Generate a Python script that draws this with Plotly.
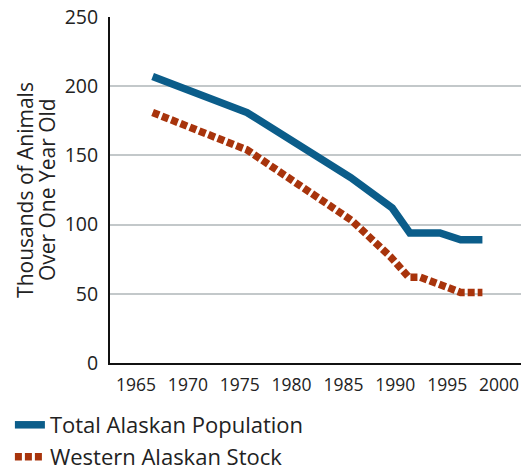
import plotly.graph_objects as go

# Population estimates (thousands of animals over one year old)
total_years = [1966.6, 1975.7, 1985.7, 1989.7, 1991.4, 1994.3, 1996.3, 1998.4]
total_values = [207, 181, 134, 112, 94, 94, 89, 89]

western_years = [1966.6, 1975.7, 1985.8, 1989.5, 1991.3, 1992.4, 1996.3, 1998.4]
western_values = [181, 154, 103, 77, 62, 62, 51, 51]

x_ticks = [1965, 1970, 1975, 1980, 1985, 1990, 1995, 2000]
y_ticks = [0, 50, 100, 150, 200, 250]

y_title_lines = ["Thousands of Animals", "Over One Year Old"]

BLUE = "#0b5d8a"
RUST = "#a8340c"
TEXT = "#222222"
FONT = "Open Sans"

fig = go.Figure()
fig.add_trace(go.Scatter(
    x=total_years, y=total_values, mode="lines",
    name="Total Alaskan Population", legend="legend",
    line=dict(color=BLUE, width=7.5),
))
fig.add_trace(go.Scatter(
    x=western_years, y=western_values, mode="lines",
    name="Western Alaskan Stock", legend="legend2",
    line=dict(color=RUST, width=7.5, dash="7px,3px"),
))

legend_common = dict(
    xref="container", yref="container",
    x=0.019, xanchor="left", yanchor="middle",
    orientation="h",
    font=dict(size=22, color=TEXT, family=FONT),
    bgcolor="rgba(0,0,0,0)",
)

fig.update_layout(
    width=521, height=472,
    margin=dict(l=110, r=0, t=17, b=109, autoexpand=False),
    paper_bgcolor="white", plot_bgcolor="white",
    font=dict(family=FONT, color=TEXT),
    showlegend=True,
    legend=dict(y=1 - 425 / 472, **legend_common),
    legend2=dict(y=1 - 457 / 472, **legend_common),
)

# Two-line rotated axis title, with tight line spacing
for xpos, line in zip([-0.207, -0.153], y_title_lines):
    fig.add_annotation(
        text=line, xref="paper", yref="paper", x=xpos, y=0.5,
        xanchor="center", yanchor="middle", textangle=-90,
        showarrow=False, font=dict(size=21, color=TEXT, family=FONT),
    )

fig.update_xaxes(
    range=[1962.49, 2002.12], automargin=False,
    tickvals=x_ticks, ticks="", showgrid=False, tickangle=0,
    showline=True, linecolor="#111111", linewidth=2,
    tickfont=dict(size=17.5, color=TEXT, family=FONT),
    ticklabelstandoff=5,
    zeroline=False,
)
fig.update_yaxes(
    range=[0, 250], automargin=False,
    tickvals=y_ticks, ticks="",
    showgrid=True, gridcolor="#c3c8ca", gridwidth=1.5,
    showline=True, linecolor="#111111", linewidth=2,
    tickfont=dict(size=19.5, color=TEXT, family=FONT),
    ticklabelstandoff=6,
    zeroline=False,
)

fig.write_html("out.html")
